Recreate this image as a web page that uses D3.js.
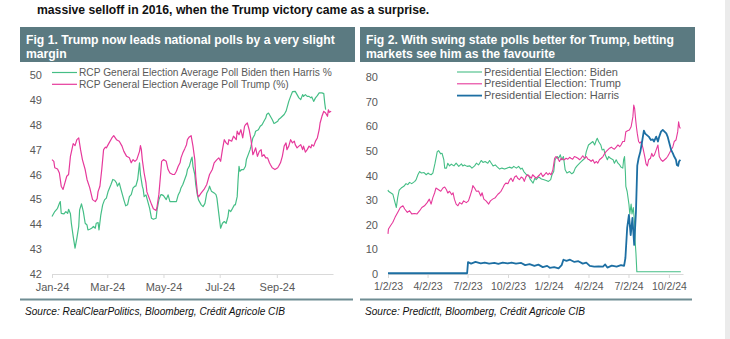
<!DOCTYPE html>
<html>
<head>
<meta charset="utf-8">
<script src="https://cdn.jsdelivr.net/npm/d3@7"></script>
<style>
  body { margin: 0; background: #fff; }
  svg { display: block; font-family: "Liberation Sans", Arial, sans-serif; }
</style>
</head>
<body>
<svg id="chart" width="730" height="339"></svg>
<script>
// RCP general election averages, 2024 (%)
const rcpBidenHarris = [
  ["2024-01-01",44.31],["2024-01-04",44.51],["2024-01-07",44.64],["2024-01-09",44.84],["2024-01-10",44.91],["2024-01-11",44.44],["2024-01-14",44.42],["2024-01-16",44.51],["2024-01-18",44.44],["2024-01-19",44.6],["2024-01-21",44.42],["2024-01-22",44.04],["2024-01-24",43.51],["2024-01-26",43.04],["2024-01-28",43.44],["2024-01-30",43.91],["2024-01-31",44.58],
  ["2024-02-02",44.82],["2024-02-04",44.51],["2024-02-06",44.04],["2024-02-08",43.97],["2024-02-09",43.77],["2024-02-11",43.8],["2024-02-13",43.84],["2024-02-15",43.91],["2024-02-17",43.84],["2024-02-18",44.04],["2024-02-20",44.07],["2024-02-21",43.77],["2024-02-23",44.38],["2024-02-25",44.78],["2024-02-27",44.98],["2024-02-29",45.05],
  ["2024-03-02",45.33],["2024-03-05",45.6],["2024-03-07",45.8],["2024-03-09",45.77],["2024-03-11",45.66],["2024-03-12",45.53],["2024-03-14",45.66],["2024-03-16",45.38],["2024-03-19",44.98],["2024-03-21",44.74],["2024-03-23",44.78],["2024-03-25",45.11],["2024-03-27",45.19],["2024-03-29",45.46],["2024-03-31",45.53],
  ["2024-04-01",45.53],["2024-04-03",45.8],["2024-04-05",46.47],["2024-04-06",46.0],["2024-04-08",45.53],["2024-04-09",45.4],["2024-04-10",45.11],["2024-04-12",45.18],["2024-04-14",44.91],["2024-04-16",44.64],["2024-04-18",44.24],["2024-04-20",44.2],["2024-04-23",44.24],["2024-04-24",44.58],["2024-04-26",44.98],["2024-04-28",45.18],["2024-04-29",45.19],
  ["2024-05-01",45.15],["2024-05-04",44.99],["2024-05-06",45.18],["2024-05-08",44.91],["2024-05-11",44.91],["2024-05-15",44.91],["2024-05-17",45.18],["2024-05-19",45.33],["2024-05-20",45.46],["2024-05-22",45.6],["2024-05-24",45.8],["2024-05-26",46.0],["2024-05-27",46.2],["2024-05-29",46.33],["2024-05-31",46.6],
  ["2024-06-01",46.7],["2024-06-02",46.33],["2024-06-04",46.0],["2024-06-05",45.6],["2024-06-07",45.13],["2024-06-08",44.98],["2024-06-11",44.78],["2024-06-13",44.71],["2024-06-15",44.84],["2024-06-17",45.25],["2024-06-19",45.4],["2024-06-20",45.53],["2024-06-22",45.33],["2024-06-25",45.26],["2024-06-27",45.19],["2024-06-28",45.05],["2024-06-30",44.44],
  ["2024-07-02",43.84],["2024-07-04",44.04],["2024-07-06",44.11],["2024-07-08",44.04],["2024-07-10",44.31],["2024-07-11",44.58],["2024-07-13",44.51],["2024-07-15",44.64],["2024-07-17",44.78],["2024-07-18",44.78],["2024-07-20",45.11],["2024-07-21",45.8],["2024-07-22",46.33],["2024-07-23",46.13],["2024-07-25",46.2],["2024-07-27",46.2],["2024-07-29",46.33],["2024-07-30",46.6],
  ["2024-08-01",46.8],["2024-08-03",47.0],["2024-08-04",47.14],["2024-08-06",47.47],["2024-08-08",47.6],["2024-08-09",47.74],["2024-08-12",47.8],["2024-08-14",47.94],["2024-08-16",48.0],["2024-08-18",48.14],["2024-08-20",48.27],["2024-08-21",48.41],["2024-08-23",48.47],["2024-08-25",48.34],["2024-08-27",48.21],["2024-08-29",48.05],["2024-08-30",48.07],
  ["2024-09-02",48.14],["2024-09-03",48.21],["2024-09-05",48.27],["2024-09-07",48.34],["2024-09-09",48.41],["2024-09-11",48.54],["2024-09-12",48.67],["2024-09-14",48.94],["2024-09-16",49.14],["2024-09-18",49.33],["2024-09-21",49.34],["2024-09-23",49.21],["2024-09-25",49.08],["2024-09-27",49.01],["2024-09-29",49.21],["2024-09-30",49.14],
  ["2024-10-02",49.21],["2024-10-04",49.14],["2024-10-06",49.14],["2024-10-08",49.08],["2024-10-09",49.12],["2024-10-11",48.94],["2024-10-13",49.08],["2024-10-15",49.17],["2024-10-17",49.28],["2024-10-18",49.28],["2024-10-20",49.28],["2024-10-22",49.25],["2024-10-23",48.88],["2024-10-24",48.61]
];
const rcpTrump = [
  ["2024-01-01",46.6],["2024-01-03",46.53],["2024-01-04",46.27],["2024-01-07",46.22],["2024-01-09",46.06],["2024-01-11",45.53],["2024-01-13",45.4],["2024-01-15",45.66],["2024-01-17",45.93],["2024-01-19",46.0],["2024-01-21",46.73],["2024-01-24",47.24],["2024-01-26",47.16],["2024-01-28",47.4],["2024-01-30",47.47],
  ["2024-02-01",47.0],["2024-02-03",46.6],["2024-02-06",46.2],["2024-02-08",45.8],["2024-02-11",45.46],["2024-02-14",44.99],["2024-02-17",44.91],["2024-02-19",45.03],["2024-02-20",45.31],["2024-02-22",45.53],["2024-02-24",46.2],["2024-02-26",47.0],["2024-02-28",47.1],["2024-02-29",47.07],
  ["2024-03-03",47.27],["2024-03-06",47.47],["2024-03-08",47.56],["2024-03-11",47.4],["2024-03-14",47.34],["2024-03-17",47.14],["2024-03-19",46.93],["2024-03-22",46.73],["2024-03-25",46.67],["2024-03-27",46.47],["2024-03-29",46.6],["2024-03-31",46.53],
  ["2024-04-02",46.6],["2024-04-05",46.93],["2024-04-06",47.16],["2024-04-07",47.0],["2024-04-08",46.6],["2024-04-10",46.06],["2024-04-12",45.66],["2024-04-13",45.3],["2024-04-16",45.0],["2024-04-18",44.8],["2024-04-20",44.62],["2024-04-23",44.55],["2024-04-24",44.7],["2024-04-26",45.2],["2024-04-28",46.06],["2024-04-29",46.53],
  ["2024-05-01",46.6],["2024-05-04",46.53],["2024-05-06",46.2],["2024-05-08",46.06],["2024-05-11",46.0],["2024-05-13",46.0],["2024-05-15",46.13],["2024-05-17",46.33],["2024-05-19",46.47],["2024-05-20",46.67],["2024-05-22",46.87],["2024-05-24",47.03],["2024-05-26",47.2],["2024-05-27",47.4],["2024-05-29",47.51],["2024-05-31",47.56],
  ["2024-06-02",47.14],["2024-06-04",46.6],["2024-06-05",45.93],["2024-06-07",45.2],["2024-06-08",45.1],["2024-06-11",45.26],["2024-06-14",45.4],["2024-06-17",45.6],["2024-06-20",46.0],["2024-06-23",46.2],["2024-06-25",46.47],["2024-06-28",46.6],["2024-06-30",46.67],
  ["2024-07-02",46.53],["2024-07-04",47.0],["2024-07-06",47.4],["2024-07-08",47.27],["2024-07-10",47.2],["2024-07-11",47.4],["2024-07-14",47.34],["2024-07-16",47.54],["2024-07-19",47.4],["2024-07-20",47.74],["2024-07-22",47.6],["2024-07-24",47.8],["2024-07-26",47.47],["2024-07-28",47.94],["2024-07-29",48.0],["2024-07-31",48.07],
  ["2024-08-02",47.8],["2024-08-04",47.4],["2024-08-06",46.8],["2024-08-07",46.87],["2024-08-09",47.07],["2024-08-11",46.73],["2024-08-13",46.93],["2024-08-15",47.0],["2024-08-16",46.73],["2024-08-18",46.8],["2024-08-20",46.67],["2024-08-22",46.67],["2024-08-24",46.47],["2024-08-25",46.4],["2024-08-27",46.27],["2024-08-30",46.2],
  ["2024-09-02",46.27],["2024-09-03",46.33],["2024-09-05",46.47],["2024-09-07",46.73],["2024-09-09",47.14],["2024-09-11",47.27],["2024-09-12",47.0],["2024-09-14",47.14],["2024-09-16",47.4],["2024-09-18",47.27],["2024-09-20",47.34],["2024-09-21",47.2],["2024-09-23",47.07],["2024-09-25",47.14],["2024-09-27",47.2],["2024-09-29",47.0],["2024-09-30",47.14],
  ["2024-10-02",46.9],["2024-10-04",47.0],["2024-10-06",47.14],["2024-10-08",47.07],["2024-10-09",47.2],["2024-10-11",47.14],["2024-10-13",47.34],["2024-10-15",47.47],["2024-10-17",47.8],["2024-10-18",48.07],["2024-10-20",48.34],["2024-10-22",48.54],["2024-10-24",48.47],["2024-10-26",48.34],["2024-10-27",48.6],["2024-10-28",48.5],["2024-10-30",48.54]
];

// PredictIt presidential election contract prices (cents)
const piBiden = [
  ["2023-01-02",34.2],["2023-01-03",33.6],["2023-01-13",32.4],["2023-01-18",29],["2023-01-21",27],["2023-01-24",31],["2023-01-27",33.7],["2023-01-28",34.2],["2023-02-01",34.9],["2023-02-07",35.6],["2023-02-12",36.7],["2023-02-16",36.3],["2023-02-20",37.2],["2023-02-25",36.7],
  ["2023-03-04",37.6],["2023-03-07",38.3],["2023-03-11",40.3],["2023-03-15",41.6],["2023-03-19",41.0],["2023-03-25",41.2],["2023-03-30",40.3],["2023-04-03",41.0],["2023-04-06",40.6],["2023-04-10",40.3],["2023-04-14",41],["2023-04-19",45],["2023-04-24",49.7],["2023-04-27",50.1],
  ["2023-05-02",48.8],["2023-05-05",49.0],["2023-05-09",46.4],["2023-05-11",43.0],["2023-05-15",43.0],["2023-05-18",45.0],["2023-05-22",43.9],["2023-05-26",44.6],["2023-06-01",43.9],["2023-06-06",45],["2023-06-12",43.7],["2023-06-18",44.7],["2023-06-21",43.9],["2023-06-25",44.3],
  ["2023-07-01",43.7],["2023-07-07",43.9],["2023-07-12",43.0],["2023-07-18",43.9],["2023-07-22",45],["2023-07-27",44.3],["2023-08-02",46.1],["2023-08-06",45.3],["2023-08-11",45.7],["2023-08-17",45.0],["2023-08-21",46.1],["2023-08-25",45],["2023-08-29",43.9],
  ["2023-09-03",44.3],["2023-09-08",43.4],["2023-09-13",42.6],["2023-09-18",43.0],["2023-09-24",42.6],["2023-09-30",43],["2023-10-05",43.4],["2023-10-11",43.0],["2023-10-15",43.7],["2023-10-21",43.0],["2023-10-26",43.7],["2023-10-31",42.6],
  ["2023-11-03",43],["2023-11-07",41.6],["2023-11-13",40.3],["2023-11-18",39.9],["2023-11-22",38.3],["2023-11-28",36.9],["2023-12-02",38.9],["2023-12-05",38.3],["2023-12-11",39.4],["2023-12-17",38.6],["2023-12-23",38.3],["2023-12-28",38.0],
  ["2024-01-02",37.6],["2024-01-07",38.3],["2024-01-10",40.3],["2024-01-14",41.6],["2024-01-17",46.4],["2024-01-22",47.7],["2024-01-25",47.0],["2024-01-29",48.4],["2024-02-01",46.4],["2024-02-05",47.7],["2024-02-09",42.3],["2024-02-13",41.0],["2024-02-19",41.6],["2024-02-24",40.7],["2024-02-28",41.2],
  ["2024-03-03",43.0],["2024-03-07",43.9],["2024-03-13",45.0],["2024-03-17",45.7],["2024-03-21",46.4],["2024-03-25",47.0],["2024-03-28",49.7],["2024-04-02",52.4],["2024-04-07",53.1],["2024-04-12",53.8],["2024-04-16",52.4],["2024-04-20",54.4],["2024-04-22",55.1],["2024-04-25",53.8],["2024-04-30",52.4],
  ["2024-05-03",50.4],["2024-05-07",50.7],["2024-05-10",48.4],["2024-05-15",46.4],["2024-05-18",47.7],["2024-05-22",47.0],["2024-05-28",46.4],["2024-05-31",45],["2024-06-04",46.4],["2024-06-08",45],["2024-06-12",44.3],["2024-06-15",43.4],["2024-06-19",43],["2024-06-21",46.4],["2024-06-23",47.7],
  ["2024-06-25",41],["2024-06-26",35.6],["2024-06-29",33.5],["2024-07-03",28.4],["2024-07-05",24.4],["2024-07-08",28.4],["2024-07-10",24.4],["2024-07-13",27],["2024-07-16",20.3],["2024-07-17",13.7],["2024-07-19",8.3],["2024-07-21",0.9],["2024-08-20",0.9],["2024-09-20",0.9],["2024-10-29",0.9]
];
const piTrump = [
  ["2023-01-02",16.3],["2023-01-03",18.3],["2023-01-08",19.7],["2023-01-13",21],["2023-01-18",23],["2023-01-24",25],["2023-01-30",27],["2023-02-05",27.7],["2023-02-09",26.4],["2023-02-15",25],["2023-02-20",25.7],["2023-02-25",24.4],
  ["2023-03-04",24.6],["2023-03-09",24.4],["2023-03-15",25.7],["2023-03-20",27],["2023-03-26",27.7],["2023-04-01",29],["2023-04-06",30.4],["2023-04-10",28.4],["2023-04-14",31],["2023-04-18",32.9],["2023-04-21",34.9],["2023-04-27",34.2],
  ["2023-05-02",33.6],["2023-05-07",34.9],["2023-05-11",35.3],["2023-05-15",34.2],["2023-05-18",32.9],["2023-05-22",33.6],["2023-05-27",32.2],["2023-05-30",33],["2023-06-02",30.4],["2023-06-06",28.4],["2023-06-10",27.7],["2023-06-14",29],["2023-06-19",28.4],["2023-06-23",29.7],["2023-06-29",29],
  ["2023-07-04",29.7],["2023-07-09",32.4],["2023-07-12",34.2],["2023-07-14",35.9],["2023-07-18",34.9],["2023-07-22",33.6],["2023-07-27",33.7],["2023-08-01",31.7],["2023-08-04",33],["2023-08-08",30.4],["2023-08-13",29.7],["2023-08-19",28.4],["2023-08-23",29.7],["2023-08-28",30.4],
  ["2023-09-03",31],["2023-09-09",32.4],["2023-09-13",33],["2023-09-16",33.6],["2023-09-20",34.9],["2023-09-24",36.3],["2023-09-27",36.9],["2023-10-02",36.7],["2023-10-05",38],["2023-10-09",38.9],["2023-10-13",37.6],["2023-10-17",39.4],["2023-10-21",39.9],["2023-10-24",38.9],["2023-10-28",38.3],
  ["2023-11-01",39.4],["2023-11-05",38.9],["2023-11-08",37.6],["2023-11-12",39.6],["2023-11-16",40.3],["2023-11-20",39.6],["2023-11-24",38.9],["2023-11-27",40.3],["2023-12-01",39.6],["2023-12-05",38.9],["2023-12-09",39.6],["2023-12-13",40.3],["2023-12-16",41.0],["2023-12-20",39.6],["2023-12-24",40.3],["2023-12-28",41.2],
  ["2024-01-01",40.3],["2024-01-04",41],["2024-01-08",40.3],["2024-01-12",42.3],["2024-01-16",47.0],["2024-01-19",47.7],["2024-01-23",47.0],["2024-01-27",45.7],["2024-01-31",47],["2024-02-04",46.4],["2024-02-07",46.4],["2024-02-11",47],["2024-02-15",46.6],["2024-02-19",47.4],["2024-02-22",47],["2024-02-26",46.6],
  ["2024-03-01",47.7],["2024-03-05",47.4],["2024-03-09",47],["2024-03-13",46.4],["2024-03-16",47],["2024-03-20",48],["2024-03-24",47],["2024-03-28",47.7],["2024-04-01",46.6],["2024-04-04",46.4],["2024-04-08",45.7],["2024-04-12",46.4],["2024-04-16",45],["2024-04-20",45.7],["2024-04-23",45],["2024-04-27",46.4],
  ["2024-05-01",47],["2024-05-05",47.7],["2024-05-09",49],["2024-05-12",49.7],["2024-05-16",50.4],["2024-05-20",51.1],["2024-05-24",51.5],["2024-05-27",51.1],["2024-05-31",50.7],["2024-06-04",51.5],["2024-06-08",52.4],["2024-06-12",51.7],["2024-06-15",52.4],["2024-06-19",53.8],["2024-06-23",53.8],["2024-06-26",57.8],["2024-06-30",58.2],
  ["2024-07-04",58.5],["2024-07-08",59.8],["2024-07-12",63.8],["2024-07-14",68.6],["2024-07-16",67.2],["2024-07-18",63.2],["2024-07-20",59.8],["2024-07-22",57.1],["2024-07-25",53.8],["2024-07-28",53.1],["2024-07-31",53.8],["2024-08-04",51.1],["2024-08-08",47.7],["2024-08-11",44.7],["2024-08-14",43.9],["2024-08-17",46.4],["2024-08-21",47],["2024-08-24",49],["2024-08-27",47.7],["2024-08-30",48.4],
  ["2024-09-03",50.4],["2024-09-07",52.4],["2024-09-10",47.7],["2024-09-14",46.4],["2024-09-18",45.7],["2024-09-22",46.4],["2024-09-26",47.0],["2024-09-29",47.7],["2024-10-03",49],["2024-10-07",50.4],["2024-10-11",51.7],["2024-10-14",53.8],["2024-10-18",54.4],["2024-10-22",57.8],["2024-10-24",61.8],["2024-10-26",59.8],["2024-10-28",59.1]
];
const piHarris = [
  ["2023-01-02",0.3],["2023-07-01",0.3],["2023-07-03",4.8],["2023-07-10",4.2],["2023-07-20",4.9],["2023-08-01",4.3],["2023-08-10",4.6],["2023-08-20",4.2],["2023-09-01",4.5],["2023-09-10",4.1],["2023-09-20",4.6],["2023-10-01",4.3],["2023-10-10",4.6],["2023-10-20",4.2],
  ["2023-11-01",4.5],["2023-11-10",3.6],["2023-11-20",4.0],["2023-12-01",3.3],["2023-12-10",3.8],["2023-12-20",2.8],["2023-12-30",3.3],["2024-01-05",2.5],["2024-01-15",2.8],["2024-01-25",2.3],["2024-02-01",3.6],["2024-02-05",5.8],["2024-02-12",5.3],["2024-02-20",5.8],
  ["2024-03-01",4.9],["2024-03-10",5.2],["2024-03-20",4.2],["2024-03-28",4.6],["2024-04-05",3.3],["2024-04-15",3.0],["2024-04-25",3.1],["2024-05-05",3.0],["2024-05-10",3.9],["2024-05-15",2.6],["2024-05-25",3.4],["2024-06-05",3.0],["2024-06-15",3.6],["2024-06-22",3.3],
  ["2024-06-25",6.5],["2024-06-29",18.7],["2024-07-03",24],["2024-07-07",15.8],["2024-07-11",22.8],["2024-07-15",11.8],["2024-07-19",25.3],["2024-07-22",44],["2024-07-25",47],["2024-07-29",49.7],["2024-08-02",53.8],["2024-08-06",58.2],["2024-08-09",57],["2024-08-13",56.4],["2024-08-17",55.8],["2024-08-22",54.4],["2024-08-26",54.7],["2024-08-29",53.8],
  ["2024-09-03",55.8],["2024-09-07",53.8],["2024-09-10",55.8],["2024-09-14",57.8],["2024-09-18",58.5],["2024-09-22",57.8],["2024-09-26",57.1],["2024-09-29",55.8],["2024-10-03",53.1],["2024-10-07",50.4],["2024-10-11",49.0],["2024-10-14",47.7],["2024-10-18",46.4],["2024-10-20",44.3],["2024-10-23",43.9],["2024-10-25",45.7],["2024-10-28",46.4]
];

const rcpYTicks = [42, 43, 44, 45, 46, 47, 48, 49, 50];
const rcpXTicks = ["2024-01-01", "2024-03-01", "2024-05-01", "2024-07-01", "2024-09-01"];
const piYTicks = [0, 10, 20, 30, 40, 50, 60, 70, 80];
const piXTicks = ["2023-01-02", "2023-04-02", "2023-07-02", "2023-10-02", "2024-01-02", "2024-04-02", "2024-07-02", "2024-10-02"];

const rcpLabels = ["RCP General Election Average Poll Biden then Harris %", "RCP General Election Average Poll Trump (%)"];
const piLabels = ["Presidential Election: Biden", "Presidential Election: Trump", "Presidential Election: Harris"];

const green = "#45be86";
const pink = "#e6399b";
const blue = "#1d6fa3";
const slate = "#5b7a81";

const parseDate = d3.timeParse("%Y-%m-%d");
const svg = d3.select("#chart");

svg.append("text")
  .attr("x", 37).attr("y", 14)
  .attr("font-size", 12.2).attr("font-weight", "bold").attr("fill", "#111")
  .text("massive selloff in 2016, when the Trump victory came as a surprise.");

// light strip along the right edge of the page
svg.append("rect").attr("x", 725).attr("y", 0).attr("width", 5).attr("height", 339).attr("fill", "#ebebeb");

const drawPanel = (p) => {
  // header box
  svg.append("rect")
    .attr("x", p.left).attr("y", 27).attr("width", p.boxW).attr("height", 35)
    .attr("fill", slate);
  p.title.forEach((t, i) => {
    svg.append("text")
      .attr("x", p.left + 6).attr("y", 44 + i * 14)
      .attr("font-size", 12.2).attr("font-weight", "bold").attr("fill", "#fff")
      .text(t);
  });

  let x = d3.scaleTime().domain(p.xDomain.map(parseDate)).range(p.xRange);
  let y = d3.scaleLinear().domain(p.yDomain).range([274, p.yTop]);

  let g = svg.append("g");

  g.append("g")
    .attr("transform", `translate(${p.xRange[0]},0)`)
    .call(d3.axisLeft(y).tickValues(p.yTicks).tickSize(0).tickPadding(p.yPad))
    .call(a => a.select(".domain").remove())
    .selectAll("text").attr("fill", "#595959").attr("font-size", 11).attr("font-family", null);

  let xa = g.append("g")
    .attr("transform", "translate(0,274)")
    .call(d3.axisBottom(x).tickValues(p.xTicks.map(parseDate)).tickFormat(d3.timeFormat(p.xFormat))
      .tickSizeInner(4).tickSizeOuter(0).tickPadding(5));
  xa.select(".domain").attr("stroke", "#d9d9d9");
  xa.selectAll(".tick line").attr("stroke", "#d9d9d9");
  xa.selectAll("text").attr("fill", "#595959").attr("font-size", p.xFont).attr("font-family", null);

  let line = d3.line()
    .x(d => x(parseDate(d[0])))
    .y(d => y(d[1]));

  p.series.forEach(s => {
    g.append("path")
      .datum(s.data)
      .attr("fill", "none")
      .attr("stroke", s.color)
      .attr("stroke-width", s.width)
      .attr("stroke-linejoin", "round")
      .attr("d", line);
  });

  // legend
  p.series.forEach((s, i) => {
    let ly = p.legendY + i * 11.8;
    svg.append("line")
      .attr("x1", p.legendX).attr("x2", p.legendX + 25)
      .attr("y1", ly).attr("y2", ly)
      .attr("stroke", s.color).attr("stroke-width", s.width);
    svg.append("text")
      .attr("x", p.legendX + 27).attr("y", ly + 3.6)
      .attr("font-size", p.legendFont).attr("fill", "#595959")
      .text(s.label);
  });

  // footer rule and source
  svg.append("line")
    .attr("x1", p.left).attr("x2", p.left + p.ruleW)
    .attr("y1", 299.5).attr("y2", 299.5)
    .attr("stroke", "#6f8d93").attr("stroke-width", 2);
  svg.append("text")
    .attr("x", p.left + 5).attr("y", 315)
    .attr("font-size", 10.1).attr("font-style", "italic").attr("fill", "#111")
    .text(p.source);
};

drawPanel({
  left: 20, boxW: 335, ruleW: 333,
  title: ["Fig 1. Trump now leads national polls by a very slight", "margin"],
  xDomain: ["2024-01-01", "2024-11-01"], xRange: [52, 333],
  yDomain: [42, 50], yTop: 75, yPad: 10,
  xTicks: rcpXTicks, yTicks: rcpYTicks, xFormat: "%b-%y", xFont: 11,
  legendX: 52, legendY: 72.5, legendFont: 10.2,
  series: [
    { data: rcpBidenHarris, color: green, width: 1.2, label: rcpLabels[0] },
    { data: rcpTrump, color: pink, width: 1.2, label: rcpLabels[1] }
  ],
  source: "Source: RealClearPolitics, Bloomberg, Crédit Agricole CIB"
});

drawPanel({
  left: 360, boxW: 335, ruleW: 332,
  title: ["Fig 2. With swing state polls better for Trump, betting", "markets see him as the favourite"],
  xDomain: ["2023-01-02", "2024-11-03"], xRange: [388, 683],
  yDomain: [0, 80], yTop: 77, yPad: 10,
  xTicks: piXTicks, yTicks: piYTicks, xFormat: "%-m/%-d/%y", xFont: 10.5,
  legendX: 457, legendY: 72, legendFont: 11,
  series: [
    { data: piBiden, color: green, width: 1.1, label: piLabels[0] },
    { data: piTrump, color: pink, width: 1.1, label: piLabels[1] },
    { data: piHarris, color: blue, width: 1.8, label: piLabels[2] }
  ],
  source: "Source: PredictIt, Bloomberg, Crédit Agricole CIB"
});
</script>
</body>
</html>
